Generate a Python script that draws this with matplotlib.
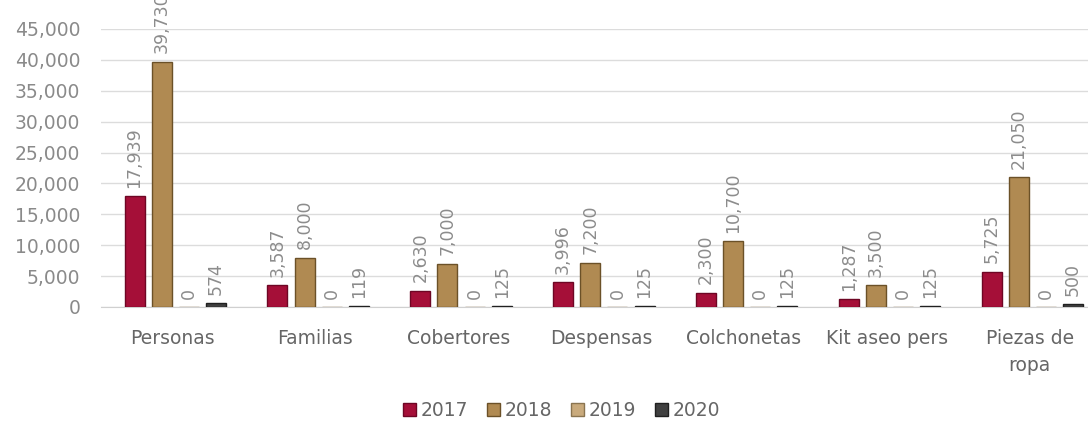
import numpy as np
import matplotlib.pyplot as plt

categories = ['Personas', 'Familias', 'Cobertores', 'Despensas',
              'Colchonetas', 'Kit aseo pers', 'Piezas de\nropa']
years = ['2017', '2018', '2019', '2020']
v2017 = [17939, 3587, 2630, 3996, 2300, 1287, 5725]
v2018 = [39730, 8000, 7000, 7200, 10700, 3500, 21050]
v2019 = [0, 0, 0, 0, 0, 0, 0]
v2020 = [574, 119, 125, 125, 125, 125, 500]
yticks = list(range(0, 45001, 5000))

series = [v2017, v2018, v2019, v2020]
colors = ['#a50f38', '#b08a52', '#c9aa7c', '#404040']
edges = ['#6e0624', '#6b5128', '#8a7450', '#202020']

plt.rcParams['font.family'] = ['DejaVu Sans']

fig = plt.figure(figsize=(10.88, 4.22), dpi=100)
ax = fig.add_axes([101 / 1088, 1 - 307 / 422, 1000 / 1088, 278 / 422])

x = np.arange(len(categories))
step = 0.19
width = 0.14
for i, (vals, c, ec, yr) in enumerate(zip(series, colors, edges, years)):
    pos = x + (i - 1.5) * step + 0.02
    ax.bar(pos, vals, width=width, color=c, edgecolor=ec, linewidth=1.0,
           label=yr, zorder=3)
    for p, v in zip(pos, vals):
        ax.annotate(f'{v:,}', (p, v), xytext=(0, 6), textcoords='offset points',
                    rotation=90, ha='center', va='bottom', fontsize=12.5,
                    color='#8c8c8c', annotation_clip=False)

ax.set_xlim(-0.5, len(categories) - 0.5)
ax.set_ylim(0, 45000)
ax.set_yticks(yticks)
ax.set_yticklabels([f'{t:,}' for t in yticks])
ax.set_xticks(x)
ax.set_xticklabels(categories, linespacing=1.55)
ax.tick_params(axis='y', length=0, pad=15, labelsize=13.5, labelcolor='#8a8a8a')
ax.tick_params(axis='x', length=0, pad=16, labelsize=13.5, labelcolor='#666666')
ax.grid(axis='y', color='#dcdcdc', linewidth=1, zorder=0)
for s in ['top', 'right', 'left']:
    ax.spines[s].set_visible(False)
ax.spines['bottom'].set_color('#d0d0d0')

fig.legend(loc='lower center', bbox_to_anchor=(0.516, -0.035), ncol=4, frameon=False,
           fontsize=13.5, handlelength=0.7, handleheight=0.7, handletextpad=0.25,
           columnspacing=1.0, labelcolor='#666666')

fig.savefig('out.png', dpi=100)
